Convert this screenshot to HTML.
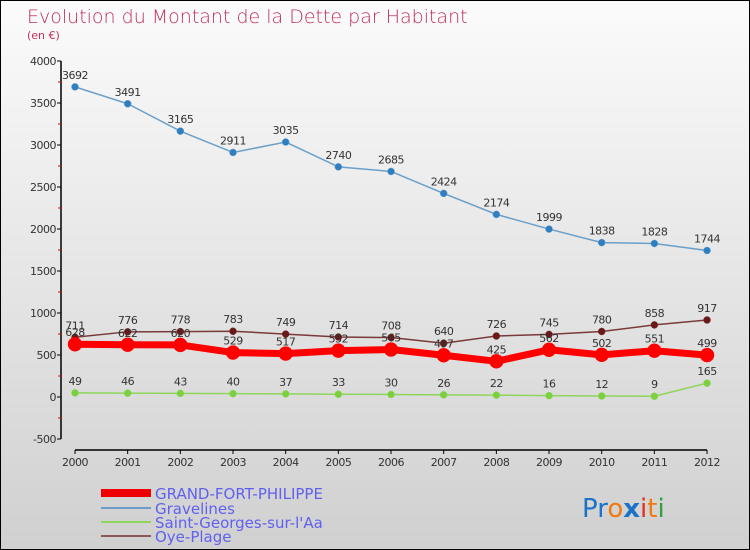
<!DOCTYPE html>
<html><head><meta charset="utf-8"><style>
body{margin:0;width:750px;height:550px;overflow:hidden;font-family:"DejaVu Sans","Liberation Sans",sans-serif}
#wrap{position:absolute;left:0;top:0;width:748px;height:548px;border:1px solid #000;background:linear-gradient(#fbfbfb,#d0d0d0)}
</style></head><body>
<div id="wrap">
<svg id="chart" width="750" height="550" style="position:absolute;left:-1px;top:-1px">
<text x="27" y="23" font-size="19" fill="#c0305a" font-family="DejaVu Sans, sans-serif" font-weight="200">Evolution du Montant de la Dette par Habitant</text>
<text x="27" y="39" font-size="11" fill="#c0305a">(en €)</text>
<g id="axes"></g><g id="series"></g>
<g>
<rect x="101" y="489" width="50" height="8" fill="#e00"/>
<text x="155" y="499" font-size="15" fill="#6060f0">GRAND-FORT-PHILIPPE</text>
<rect x="101" y="507" width="50" height="2" fill="#6b9fc9"/>
<text x="155" y="514" font-size="15" fill="#6060f0">Gravelines</text>
<rect x="101" y="521" width="50" height="2" fill="#8ed65a"/>
<text x="155" y="528" font-size="15" fill="#6060f0">Saint-Georges-sur-l'Aa</text>
<rect x="101" y="535" width="50" height="2" fill="#8a5858"/>
<text x="155" y="542" font-size="15" fill="#6060f0">Oye-Plage</text>
</g>
<text x="582" y="517" font-size="26" font-family="DejaVu Sans, sans-serif"><tspan fill="#1a73c8">Pr</tspan><tspan fill="#f07a10">o</tspan><tspan fill="#1a73c8" font-weight="bold">x</tspan><tspan fill="#e03020">i</tspan><tspan fill="#f07a10">t</tspan><tspan fill="#30a040">i</tspan></text>
</svg></div>
<script>
const years=["2000","2001","2002","2003","2004","2005","2006","2007","2008","2009","2010","2011","2012"];
const yTicks=[4000,3500,3000,2500,2000,1500,1000,500,0,-500];
const gfp=[628,622,620,529,517,552,565,497,425,562,502,551,499];
const gravelines=[3692,3491,3165,2911,3035,2740,2685,2424,2174,1999,1838,1828,1744];
const stgeorges=[49,46,43,40,37,33,30,26,22,16,12,9,165];
const oye=[711,776,778,783,749,714,708,640,726,745,780,858,917];
const NS="http://www.w3.org/2000/svg";
const xS=i=>75+i*52.67;
const yS=v=>397-v*0.084;
function mk(tag,attrs,parent){const e=document.createElementNS(NS,tag);for(const k in attrs)e.setAttribute(k,attrs[k]);parent.appendChild(e);return e;}
const ax=document.getElementById('axes');
let yl=mk('line',{x1:61,y1:yS(4000),x2:61,y2:yS(-500),stroke:'#000','stroke-width':1.5},ax);


yTicks.forEach(v=>{
 mk('line',{x1:57,x2:61,y1:yS(v),y2:yS(v),stroke:'#000'},ax);
 if(v>-500)mk('line',{x1:58,x2:61,y1:yS(v-250),y2:yS(v-250),stroke:'#e00'},ax);
 const t=mk('text',{x:56,y:yS(v)+4,'font-size':11,fill:'#333','text-anchor':'end','letter-spacing':'-0.5'},ax);
 t.textContent=v;
 
 
});
let xl=mk('line',{x1:75,y1:450,x2:xS(12),y2:450,stroke:'#000','stroke-width':1.5},ax);


years.forEach((y,i)=>{
 mk('line',{x1:xS(i),x2:xS(i),y1:450,y2:454,stroke:'#000'},ax);
 const t=mk('text',{x:xS(i),y:466,'font-size':11,fill:'#333','text-anchor':'middle','letter-spacing':'-0.5'},ax);
 t.textContent=y;
 
 
});
const sg=document.getElementById('series');
function series(vals,name,color,lw,r,mcol){
 const g=mk('g',{},sg);
 
 
 const pl=mk('polyline',{points:vals.map((v,i)=>xS(i)+','+yS(v)).join(' '),fill:'none',stroke:color,'stroke-width':lw,'stroke-linejoin':'round'},g);
 
 
 vals.forEach((v,i)=>{
  const c=mk('circle',{cx:xS(i),cy:yS(v),r:r,fill:mcol,stroke:color,'stroke-width':0.5},g);
  
  
  const t=mk('text',{x:xS(i),y:yS(v)-8,'font-size':11,fill:'#333','text-anchor':'middle','letter-spacing':'-0.5'},g);
  t.textContent=v;
  
  
 });
}
series(stgeorges,'saint-georges','#8ed65a',1.5,3.5,'#7cd040');
series(gravelines,'gravelines','#6b9fc9',1.5,3.5,'#2f7fc0');
series(oye,'oye-plage','#7a3a3a',1.5,3.5,'#6a1818');
series(gfp,'grand-fort-philippe','#f00',7,7,'#f00');
</script>
</body></html>
